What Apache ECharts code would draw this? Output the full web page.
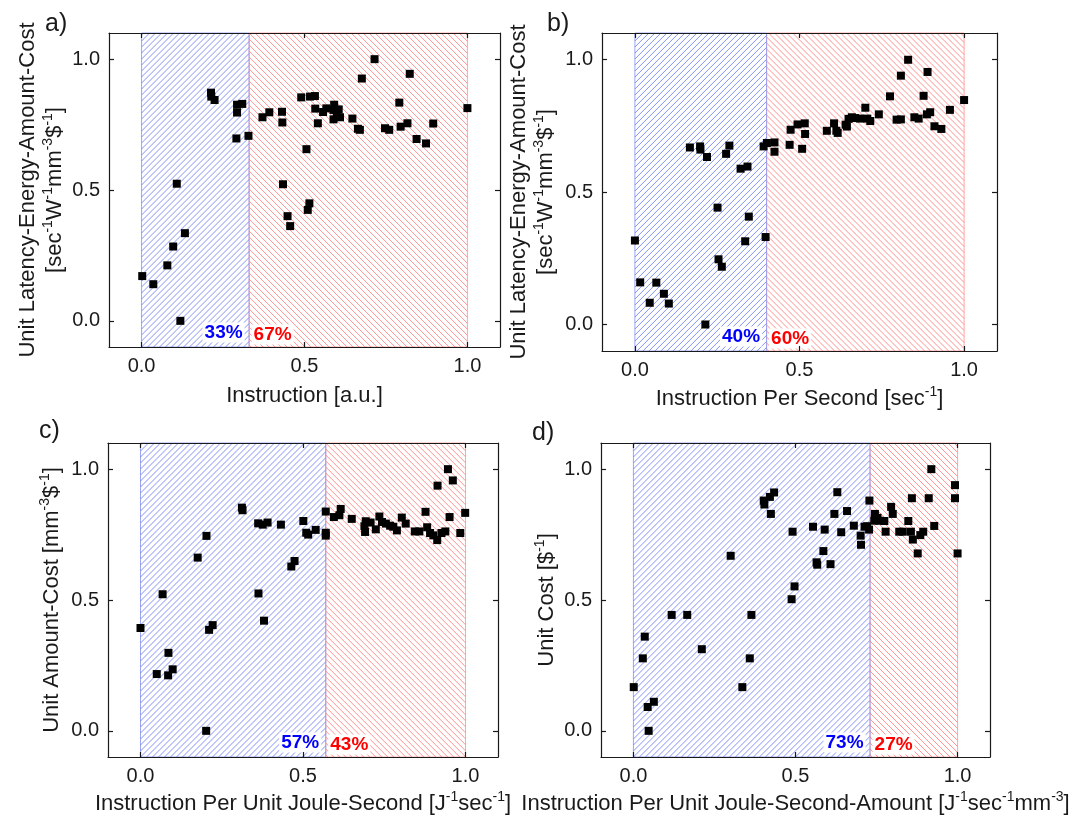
<!DOCTYPE html>
<html>
<head>
<meta charset="utf-8">
<script src="https://cdn.jsdelivr.net/npm/echarts@6/dist/echarts.min.js"></script>
<style>
  html, body { margin: 0; padding: 0; background: #fff; }
  #chart { width: 1084px; height: 819px; }
</style>
</head>
<body>
<div id="chart"></div>
<script>
// a) Instruction [a.u.]
const aX = [0.002, 0.036, 0.079, 0.097, 0.108, 0.133, 0.119, 0.213, 0.214, 0.224, 0.293, 0.309, 0.293, 0.291, 0.328,
  0.371, 0.392, 0.431, 0.432, 0.434, 0.448, 0.456, 0.490, 0.506, 0.510, 0.515, 0.517, 0.532, 0.533, 0.541,
  0.557, 0.567, 0.591, 0.589, 0.605, 0.589, 0.599, 0.609, 0.647, 0.664, 0.670, 0.676, 0.715, 0.747, 0.760,
  0.791, 0.795, 0.816, 0.823, 0.844, 0.873, 0.895, 1.000]
const aY = [0.171, 0.140, 0.212, 0.284, 0.524, 0.335, 0.000, 0.872, 0.857, 0.844, 0.826, 0.829, 0.796, 0.697, 0.707,
  0.778, 0.797, 0.799, 0.758, 0.522, 0.400, 0.362, 0.854, 0.656, 0.424, 0.449, 0.857, 0.859, 0.811, 0.755,
  0.798, 0.812, 0.826, 0.806, 0.808, 0.770, 0.787, 0.778, 0.773, 0.734, 0.730, 0.926, 1.000, 0.736, 0.730,
  0.834, 0.742, 0.755, 0.944, 0.695, 0.678, 0.754, 0.813]

// b) Instruction Per Second
const bX = [0.000, 0.016, 0.045, 0.065, 0.088, 0.103, 0.167, 0.198, 0.199, 0.219, 0.214, 0.251, 0.254, 0.264, 0.277,
  0.287, 0.321, 0.342, 0.346, 0.335, 0.397, 0.391, 0.401, 0.424, 0.424, 0.470, 0.473, 0.494, 0.516, 0.517,
  0.508, 0.583, 0.605, 0.612, 0.616, 0.640, 0.644, 0.649, 0.659, 0.669, 0.684, 0.700, 0.706, 0.715, 0.741,
  0.775, 0.795, 0.808, 0.808, 0.830, 0.849, 0.862, 0.877, 0.889, 0.887, 0.897, 0.910, 0.931, 0.957, 1.000]
const bY = [0.317, 0.159, 0.082, 0.158, 0.116, 0.079, 0.668, 0.672, 0.660, 0.632, 0.000, 0.441, 0.246, 0.218, 0.644,
  0.675, 0.588, 0.596, 0.407, 0.314, 0.330, 0.672, 0.685, 0.687, 0.652, 0.678, 0.735, 0.755, 0.759, 0.719,
  0.663, 0.731, 0.759, 0.731, 0.723, 0.754, 0.747, 0.776, 0.782, 0.779, 0.777, 0.818, 0.777, 0.768, 0.793,
  0.861, 0.773, 0.774, 0.939, 0.999, 0.782, 0.777, 0.863, 0.953, 0.793, 0.801, 0.748, 0.738, 0.810, 0.847]

// c) Instruction Per Unit Joule-Second
const cX = [0.000, 0.050, 0.068, 0.086, 0.085, 0.099, 0.176, 0.203, 0.202, 0.211, 0.222, 0.312, 0.314, 0.363, 0.380,
  0.362, 0.376, 0.391, 0.432, 0.464, 0.474, 0.501, 0.510, 0.516, 0.539, 0.570, 0.570, 0.570, 0.595, 0.612,
  0.616, 0.650, 0.693, 0.689, 0.691, 0.708, 0.724, 0.735, 0.743, 0.755, 0.768, 0.778, 0.789, 0.804, 0.816,
  0.844, 0.858, 0.877, 0.882, 0.891, 0.901, 0.913, 0.914, 0.926, 0.938, 0.946, 0.951, 0.961, 0.984, 0.999]
const cY = [0.393, 0.217, 0.522, 0.298, 0.212, 0.235, 0.662, 0.745, 0.000, 0.386, 0.404, 0.853, 0.843, 0.525, 0.421,
  0.793, 0.788, 0.796, 0.788, 0.628, 0.649, 0.802, 0.757, 0.750, 0.768, 0.838, 0.757, 0.746, 0.817, 0.824,
  0.848, 0.810, 0.801, 0.782, 0.760, 0.796, 0.770, 0.819, 0.798, 0.792, 0.784, 0.780, 0.766, 0.815, 0.792,
  0.762, 0.762, 0.837, 0.778, 0.756, 0.747, 0.729, 0.937, 0.756, 0.762, 1.000, 0.817, 0.957, 0.756, 0.833]

// d) Instruction Per Unit Joule-Second-Amount
const dX = [0.001, 0.029, 0.035, 0.044, 0.063, 0.047, 0.118, 0.166, 0.211, 0.300, 0.336, 0.359, 0.364, 0.402, 0.404,
  0.421, 0.434, 0.424, 0.488, 0.497, 0.491, 0.554, 0.565, 0.567, 0.586, 0.590, 0.608, 0.620, 0.629, 0.641,
  0.659, 0.680, 0.701, 0.702, 0.713, 0.721, 0.728, 0.727, 0.745, 0.743, 0.753, 0.759, 0.774, 0.778, 0.795,
  0.800, 0.820, 0.831, 0.848, 0.859, 0.856, 0.862, 0.877, 0.885, 0.894, 0.911, 0.919, 0.928, 0.992, 0.992, 1.000]
const dY = [0.167, 0.277, 0.360, 0.091, 0.111, 0.000, 0.443, 0.443, 0.312, 0.669, 0.167, 0.277, 0.443, 0.880, 0.865,
  0.894, 0.911, 0.829, 0.503, 0.552, 0.761, 0.780, 0.644, 0.635, 0.687, 0.769, 0.637, 0.829, 0.912, 0.759,
  0.840, 0.784, 0.746, 0.711, 0.780, 0.782, 0.880, 0.769, 0.829, 0.803, 0.814, 0.803, 0.802, 0.761, 0.856,
  0.829, 0.761, 0.761, 0.802, 0.889, 0.761, 0.731, 0.678, 0.748, 0.761, 0.889, 1.000, 0.783, 0.939, 0.889, 0.678]

const splits = [0.33, 0.40, 0.57, 0.73]
const leftPct = ['33%', '40%', '57%', '73%']
const rightPct = ['67%', '60%', '43%', '27%']
const tickValues = [0, 0.5, 1.0]

const xNames = [
  'Instruction [a.u.]',
  'Instruction Per Second [sec{s|-1}]',
  'Instruction Per Unit Joule-Second [J{s|-1}sec{s|-1}]',
  'Instruction Per Unit Joule-Second-Amount [J{s|-1}sec{s|-1}mm{s|-3}]'
]
const yNames = [
  'Unit Latency-Energy-Amount-Cost\n[sec{s|-1}W{s|-1}mm{s|-3}${s|-1}]',
  'Unit Latency-Energy-Amount-Cost\n[sec{s|-1}W{s|-1}mm{s|-3}${s|-1}]',
  'Unit Amount-Cost [mm{s|-3}${s|-1}]',
  'Unit Cost [${s|-1}]'
]
const panelLetters = ['a)', 'b)', 'c)', 'd)']

const grids = [
  {left: 109, top: 33, width: 391, height: 314},
  {left: 602, top: 33, width: 395, height: 318},
  {left: 108, top: 443, width: 390, height: 314},
  {left: 601, top: 443, width: 389, height: 314}
]
const yGaps = [40, 43, 43, 33]
const xGaps = [35, 34, 33, 33]
const letterPos = [[45, 12], [547, 12], [39, 419], [532, 421]]

const FONT = 'Liberation Sans, Arial, sans-serif'
const INK = '#1a1a1a'
const BLUE_HATCH = '#6f80f2'
const RED_HATCH = '#ff7f7f'
const STEP = 6

// diagonal hatch lines over a shaded x range, full height of the plot
// dir 1 -> "/" (blue), dir -1 -> "\" (red)
const renderHatch = (params, api) => {
  const x0 = api.value(0)
  const x1 = api.value(1)
  const dir = api.value(2)
  const tl = api.coord([x0, 1.1])
  const br = api.coord([x1, -0.1])
  const L = tl[0], T = tl[1], R = br[0], B = br[1]
  let d = ''
  if (dir > 0) {
    for (let c = L + T + 2; c < R + B; c += STEP) {
      const xa = Math.max(L, c - B), xb = Math.min(R, c - T)
      if (xb <= xa) continue
      d += 'M' + xa.toFixed(2) + ' ' + (c - xa).toFixed(2) + 'L' + xb.toFixed(2) + ' ' + (c - xb).toFixed(2)
    }
  } else {
    for (let c = L - B + 2; c < R - T; c += STEP) {
      const xa = Math.max(L, c + T), xb = Math.min(R, c + B)
      if (xb <= xa) continue
      d += 'M' + xa.toFixed(2) + ' ' + (xa - c).toFixed(2) + 'L' + xb.toFixed(2) + ' ' + (xb - c).toFixed(2)
    }
  }
  return {
    type: 'path',
    shape: {pathData: d},
    style: {fill: 'none', stroke: dir > 0 ? BLUE_HATCH : RED_HATCH, lineWidth: 1, opacity: 0.85}
  }
}

const richSup = {
  s: {fontSize: 14, verticalAlign: 'top', fontFamily: FONT, color: INK}
}

const xs = [aX, bX, cX, dX]
const ys = [aY, bY, cY, dY]

const lineStyle = {color: INK, width: 1.2}

const pctLabel = (color, pos, dist) => ({
  show: true, position: pos, formatter: '{b}', distance: dist,
  color: color, fontSize: 19, fontWeight: 'bold', fontFamily: FONT,
  backgroundColor: '#fff', padding: [1, 2, 0, 2]
})

let xAxis = []
let yAxis = []
let series = []

for (let i = 0; i < 4; i++) {
  const tick = {inside: true, length: 5, customValues: tickValues, lineStyle: lineStyle}
  const label = {
    customValues: tickValues,
    formatter: (v) => v.toFixed(1),
    fontSize: 20, color: INK, fontFamily: FONT, margin: 9
  }
  const line = {onZero: false, lineStyle: lineStyle}
  xAxis.push({
    gridIndex: i, type: 'value', position: 'bottom', min: -0.1, max: 1.1, z: 10,
    axisLine: line, axisTick: tick, axisLabel: label, splitLine: {show: false},
    name: xNames[i], nameLocation: 'middle', nameGap: xGaps[i],
    nameTextStyle: {fontSize: 22, lineHeight: 27, color: INK, fontFamily: FONT, rich: richSup}
  })
  xAxis.push({
    gridIndex: i, type: 'value', position: 'top', min: -0.1, max: 1.1, z: 10,
    axisLine: line, axisTick: tick, axisLabel: {show: false}, splitLine: {show: false}
  })
  yAxis.push({
    gridIndex: i, type: 'value', position: 'left', min: -0.1, max: 1.1, z: 10,
    axisLine: line, axisTick: tick, axisLabel: label, splitLine: {show: false},
    name: yNames[i], nameLocation: 'middle', nameGap: yGaps[i], nameRotate: 90,
    nameTextStyle: {fontSize: 22, lineHeight: 27, color: INK, fontFamily: FONT, rich: richSup}
  })
  yAxis.push({
    gridIndex: i, type: 'value', position: 'right', min: -0.1, max: 1.1, z: 10,
    axisLine: line, axisTick: tick, axisLabel: {show: false}, splitLine: {show: false}
  })

  series.push({
    type: 'custom',
    xAxisIndex: 2 * i,
    yAxisIndex: 2 * i,
    silent: true,
    z: 1,
    renderItem: renderHatch,
    encode: {x: [0, 1]},
    data: [[0, splits[i], 1], [splits[i], 1, -1]]
  })

  const pts = xs[i].map((x, k) => [x, ys[i][k]])
  series.push({
    type: 'scatter',
    xAxisIndex: 2 * i,
    yAxisIndex: 2 * i,
    symbol: 'rect',
    symbolSize: 8,
    z: 5,
    itemStyle: {color: '#000', opacity: 1},
    data: pts,
    markArea: {
      silent: true,
      data: [
        [
          {name: rightPct[i], xAxis: splits[i], yAxis: -0.1,
            itemStyle: {color: 'rgba(0,0,0,0)', borderColor: '#ffa8a8', borderWidth: 1},
            label: pctLabel('#ff0000', 'insideBottomLeft', 3)},
          {xAxis: 1, yAxis: 1.1}
        ],
        [
          {name: leftPct[i], xAxis: 0, yAxis: -0.1,
            itemStyle: {color: 'rgba(0,0,0,0)', borderColor: '#9ca6f2', borderWidth: 1},
            label: pctLabel('#0000ff', 'insideBottomRight', 5)},
          {xAxis: splits[i], yAxis: 1.1}
        ]
      ]
    }
  })
}

const graphic = panelLetters.map((t, i) => ({
  type: 'text',
  left: letterPos[i][0],
  top: letterPos[i][1],
  style: {text: t, fontSize: 25, fontFamily: FONT, fill: INK}
}))

const chart = echarts.init(document.getElementById('chart'))
chart.setOption({
  animation: false,
  textStyle: {fontFamily: FONT},
  grid: grids,
  xAxis: xAxis,
  yAxis: yAxis,
  series: series,
  graphic: graphic
})
</script>
</body>
</html>
